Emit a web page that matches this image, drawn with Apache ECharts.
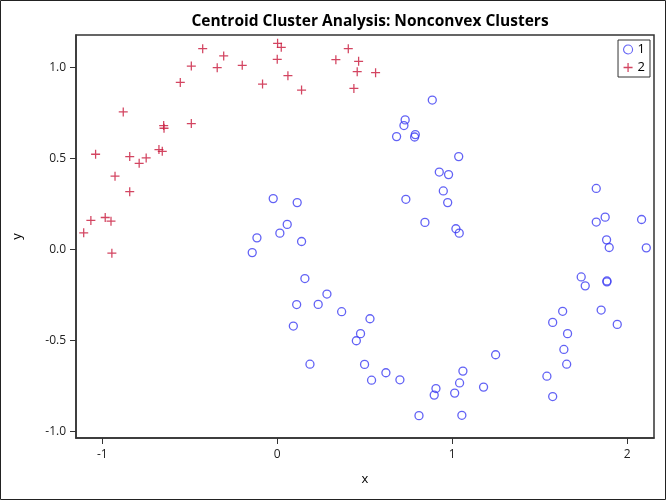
<!DOCTYPE html>
<html>
<head>
<meta charset="utf-8">
<script src="https://cdn.jsdelivr.net/npm/echarts@6/dist/echarts.min.js"></script>
<style>
  html, body { margin: 0; padding: 0; background: #fff; }
  #main { width: 666px; height: 500px; }
</style>
</head>
<body>
<div id="main"></div>
<script>
// cluster 1 (blue circles)
const c1x = [-0.023, 0.114, 0.057, 0.015, -0.116, 0.139, -0.143,
  0.886, 0.731, 0.724, 0.682, 0.789, 0.785, 1.037, 0.926, 0.979, 0.949, 0.735, 0.974, 0.844, 1.021, 1.040,
  1.823, 1.874, 1.823, 2.082, 1.882, 1.897, 2.109,
  0.158, 0.284, 0.111, 0.234, 0.368, 0.530, 0.092, 0.476, 0.452, 0.187, 0.499, 0.621, 0.539, 0.701,
  1.248, 1.061, 1.042, 0.907, 1.179, 0.897, 1.014, 0.810, 1.055,
  1.737, 1.760, 1.884, 1.884, 1.851, 1.631, 1.574, 1.943, 1.659, 1.638, 1.654, 1.541, 1.574];
const c1y = [0.280, 0.258, 0.138, 0.090, 0.064, 0.044, -0.017,
  0.822, 0.713, 0.682, 0.621, 0.632, 0.619, 0.511, 0.426, 0.412, 0.322, 0.276, 0.258, 0.149, 0.114, 0.090,
  0.336, 0.178, 0.151, 0.165, 0.053, 0.011, 0.009,
  -0.160, -0.245, -0.303, -0.302, -0.342, -0.381, -0.421, -0.463, -0.502, -0.631, -0.632, -0.678, -0.719, -0.717,
  -0.579, -0.669, -0.734, -0.765, -0.757, -0.801, -0.790, -0.914, -0.912,
  -0.151, -0.200, -0.173, -0.178, -0.333, -0.340, -0.401, -0.412, -0.463, -0.550, -0.631, -0.697, -0.809];

// cluster 2 (red crosses)
const c2x = [-1.106, -1.065, -1.038, -0.983, -0.950, -0.945, -0.927, -0.880, -0.843, -0.843,
  -0.789, -0.749, -0.676, -0.657, -0.649, -0.647, -0.554, -0.491, -0.491, -0.426,
  -0.343, -0.306, -0.200, -0.084, 0.000, 0.002, 0.023, 0.061, 0.139, 0.335,
  0.406, 0.465, 0.457, 0.562, 0.438];
const c2y = [0.092, 0.160, 0.524, 0.176, 0.156, -0.020, 0.403, 0.757, 0.511, 0.318,
  0.474, 0.504, 0.550, 0.540, 0.682, 0.667, 0.919, 0.693, 1.009, 1.105,
  1.000, 1.065, 1.013, 0.910, 1.046, 1.134, 1.112, 0.956, 0.877, 1.044,
  1.105, 1.035, 0.978, 0.973, 0.886];

const xTicks = [-1, 0, 1, 2];
const yTicks = [-1, -0.5, 0, 0.5, 1];

const zip = (xs, ys) => xs.map((v, i) => [v, ys[i]]);
const crossPath = 'path://M0,4.3H10V5.7H0Z M4.3,0H5.7V10H4.3Z';
const font = 'Open Sans';
const frameColor = '#333';
const blue = '#3b3bf2';
const red = '#c8163a';

const myChart = echarts.init(document.getElementById('main'));
const option = {
    animation: false,
    title: {
        text: 'Centroid Cluster Analysis: Nonconvex Clusters',
        left: 365,
        textAlign: 'center',
        top: 9,
        textStyle: { fontFamily: font, fontWeight: 'bold', fontSize: 15.5, color: '#000' }
    },
    legend: {
        orient: 'vertical',
        right: 16,
        top: 40,
        itemWidth: 9,
        itemHeight: 9,
        itemGap: 5,
        padding: [3, 5, 3, 5],
        borderColor: frameColor,
        borderWidth: 1,
        textStyle: { fontFamily: font, fontSize: 13, color: '#000' },
        data: [
            { name: '1', icon: 'circle', itemStyle: { color: 'rgba(0,0,0,0)', borderColor: blue, borderWidth: 1.1 } },
            { name: '2', icon: crossPath, itemStyle: { color: red } }
        ]
    },
    grid: {
        left: 76, right: 12, top: 35, bottom: 62,
        show: true, borderColor: frameColor, borderWidth: 1.5
    },
    xAxis: {
        type: 'value',
        min: -1.15, max: 2.153,
        name: 'x', nameLocation: 'middle', nameGap: 35,
        nameTextStyle: { fontFamily: font, fontSize: 13, color: '#000' },
        axisLine: { show: true, onZero: false, lineStyle: { color: frameColor, width: 1.5 } },
        splitLine: { show: false },
        axisTick: { show: true, length: 6, lineStyle: { color: frameColor }, customValues: xTicks },
        axisLabel: { fontFamily: font, fontSize: 12, color: '#222', margin: 11, customValues: xTicks }
    },
    yAxis: {
        type: 'value',
        min: -1.037, max: 1.18,
        name: 'y', nameLocation: 'middle', nameGap: 52,
        nameTextStyle: { fontFamily: font, fontSize: 13, color: '#000' },
        axisLine: { show: true, onZero: false, lineStyle: { color: frameColor, width: 1.5 } },
        splitLine: { show: false },
        axisTick: { show: true, length: 6, lineStyle: { color: frameColor }, customValues: yTicks },
        axisLabel: {
            fontFamily: font, fontSize: 12, color: '#222', margin: 10, customValues: yTicks,
            formatter: v => v.toFixed(1)
        }
    },
    graphic: [{
        type: 'rect',
        shape: { x: 0.5, y: 0.5, width: 665, height: 499 },
        style: { fill: 'none', stroke: '#222', lineWidth: 1 },
        silent: true
    }],
    series: [
        {
            name: '1',
            type: 'scatter',
            symbol: 'circle',
            symbolSize: 8,
            itemStyle: { color: 'rgba(0,0,0,0)', borderColor: blue, borderWidth: 1.3 },
            data: zip(c1x, c1y)
        },
        {
            name: '2',
            type: 'scatter',
            symbol: crossPath,
            symbolSize: 9,
            itemStyle: { color: red },
            data: zip(c2x, c2y)
        }
    ]
};
myChart.setOption(option);
</script>
</body>
</html>
